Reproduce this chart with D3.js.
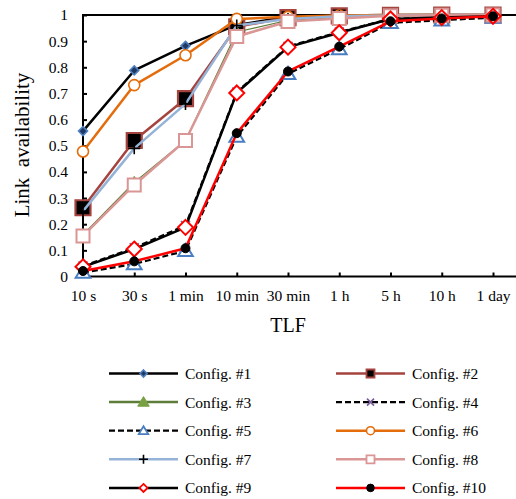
<!DOCTYPE html>
<html>
<head>
<meta charset="utf-8">
<script src="https://cdn.jsdelivr.net/npm/d3@7"></script>
<style>
  html, body { margin: 0; padding: 0; background: #fff; }
  svg { display: block; }
  svg text { font-family: "Liberation Serif", "Times New Roman", "DejaVu Serif", serif; fill: #000; }
</style>
</head>
<body>
<svg id="chart" width="516" height="499"></svg>
<script>
// Categories (time-to-live / TLF values) and y-axis tick labels
const categories = ["10 s", "30 s", "1 min", "10 min", "30 min", "1 h", "5 h", "10 h", "1 day"];
const yTicks = [0, 0.1, 0.2, 0.3, 0.4, 0.5, 0.6, 0.7, 0.8, 0.9, 1];
const yTickLabels = ["0", "0.1", "0.2", "0.3", "0.4", "0.5", "0.6", "0.7", "0.8", "0.9", "1"];

// Link availability per configuration
const config1  = [0.556, 0.788, 0.882, 0.962, 0.993, 0.998, 1.000, 1.000, 1.000];
const config2  = [0.263, 0.520, 0.680, 0.955, 0.990, 0.997, 0.999, 1.000, 1.000];
const config3  = [0.160, 0.360, 0.520, 0.935, 0.980, 0.990, 0.997, 0.999, 1.000];
const config4  = [0.040, 0.110, 0.195, 0.705, 0.880, 0.935, 0.985, 0.990, 0.995];
const config5  = [0.015, 0.048, 0.098, 0.535, 0.775, 0.870, 0.970, 0.980, 0.990];
const config6  = [0.478, 0.732, 0.846, 0.985, 0.993, 0.998, 1.000, 1.000, 1.000];
const config7  = [0.250, 0.490, 0.660, 0.960, 0.985, 0.995, 0.998, 1.000, 1.000];
const config8  = [0.155, 0.350, 0.520, 0.918, 0.975, 0.987, 0.997, 0.999, 1.000];
const config9  = [0.037, 0.105, 0.188, 0.702, 0.877, 0.932, 0.985, 0.990, 0.995];
const config10 = [0.021, 0.058, 0.108, 0.548, 0.784, 0.879, 0.976, 0.987, 0.995];

const seriesNames = ["Config. #1", "Config. #2", "Config. #3", "Config. #4", "Config. #5",
                     "Config. #6", "Config. #7", "Config. #8", "Config. #9", "Config. #10"];
const seriesValues = [config1, config2, config3, config4, config5,
                      config6, config7, config8, config9, config10];

// Visual style of each series: line, marker shape, marker size in plot and legend
const styles = [
  { line: "#000000", lw: 2.5, dash: null, shape: "diamond", size: 4.5, lsize: 3.5, fill: "#1F3864", stroke: "#4F81BD", sw: 1.6 },
  { line: "#A5443F", lw: 2.5, dash: null, shape: "square",  size: 7.5, lsize: 4,   fill: "#000000", stroke: "#A5443F", sw: 2.2 },
  { line: "#5E7D38", lw: 1.2, dash: null, shape: "triangle",size: 6,   lsize: 5.5, fill: "#77A143", stroke: "#77A143", sw: 1 },
  { line: "#000000", lw: 2.2, dash: "6,3", shape: "times", size: 4.5, lsize: 3.5, fill: "none",    stroke: "#7A5E9E", sw: 1.6 },
  { line: "#000000", lw: 2.2, dash: "6,3", shape: "triangle",size: 7, lsize: 4.5, fill: "#ffffff", stroke: "#4A7EC2", sw: 2 },
  { line: "#E46C0A", lw: 2.5, dash: null, shape: "circle",  size: 5.5, lsize: 4,   fill: "#ffffff", stroke: "#E46C0A", sw: 1.6 },
  { line: "#95B3D7", lw: 2.5, dash: null, shape: "plus",    size: 6,   lsize: 4.5, fill: "none",    stroke: "#000000", sw: 1.6 },
  { line: "#D99694", lw: 2.5, dash: null, shape: "square",  size: 6.5, lsize: 4,   fill: "#ffffff", stroke: "#D99694", sw: 2 },
  { line: "#000000", lw: 2.5, dash: null, shape: "diamond", size: 7.5, lsize: 4,   fill: "#ffffff", stroke: "#FF0000", sw: 2 },
  { line: "#FF0000", lw: 2.5, dash: null, shape: "circle",  size: 4.5, lsize: 3.8, fill: "#000000", stroke: "#000000", sw: 1 }
];

// Marker path by shape and half-size
function markerPath(shape, r) {
  switch (shape) {
    case "diamond":  return `M0,${-r}L${r},0L0,${r}L${-r},0Z`;
    case "square":   return `M${-r},${-r}H${r}V${r}H${-r}Z`;
    case "triangle": return `M0,${-r}L${r * 1.05},${r * 0.75}L${-r * 1.05},${r * 0.75}Z`;
    case "times":    return `M${-r},${-r}L${r},${r}M${r},${-r}L${-r},${r}`;
    case "plus":     return `M${-r},0H${r}M0,${-r}V${r}`;
    case "circle":   return `M${r},0A${r},${r} 0 1,1 ${-r},0A${r},${r} 0 1,1 ${r},0Z`;
  }
}

const FONT = "Liberation Serif, Times New Roman, DejaVu Serif, serif";
const svg = d3.select("#chart");
const plotLeft = 83, plotRight = 493, plotTop = 15, plotBottom = 276.5, plotEnd = 516;

const x = d3.scalePoint().domain(categories).range([plotLeft, plotRight]);
const y = d3.scaleLinear().domain([0, 1]).range([plotBottom, plotTop]);

// Axes (ticks point inward)
const xAxis = svg.append("g")
  .attr("transform", `translate(0,${plotBottom})`)
  .call(d3.axisBottom(x).tickSizeInner(-4).tickSizeOuter(0).tickPadding(13));
const yAxis = svg.append("g")
  .attr("transform", `translate(${plotLeft},0)`)
  .call(d3.axisLeft(y).tickValues(yTicks).tickFormat((d, i) => yTickLabels[i])
        .tickSizeInner(-4).tickSizeOuter(0).tickPadding(15));
[xAxis, yAxis].forEach(g => {
  g.attr("font-family", FONT).attr("font-size", 15.5);
  g.select(".domain").remove();
  g.selectAll(".tick line").attr("stroke", "#000").attr("stroke-width", 2);
  g.selectAll(".tick text").attr("font-size", "15.5px").attr("fill", "#000")
    .attr("font-family", FONT);
});

// Plot frame: left axis, bottom axis and top border
svg.append("line").attr("x1", plotLeft).attr("x2", plotEnd).attr("y1", plotBottom).attr("y2", plotBottom)
  .attr("stroke", "#000").attr("stroke-width", 2);
svg.append("line").attr("x1", plotLeft).attr("x2", plotEnd).attr("y1", plotTop).attr("y2", plotTop)
  .attr("stroke", "#000").attr("stroke-width", 2);
svg.append("line").attr("x1", plotLeft).attr("x2", plotLeft).attr("y1", plotTop - 1).attr("y2", plotBottom + 1)
  .attr("stroke", "#000").attr("stroke-width", 2);

// Series: line then markers, in order
const lineGen = d3.line().x((d, i) => x(categories[i])).y(d => y(d));
seriesValues.forEach((vals, s) => {
  const st = styles[s];
  const g = svg.append("g");
  g.append("path").datum(vals).attr("d", lineGen)
    .attr("fill", "none").attr("stroke", st.line).attr("stroke-width", st.lw)
    .attr("stroke-linejoin", "round")
    .attr("stroke-dasharray", st.dash);
  g.selectAll("path.m").data(vals).join("path").attr("class", "m")
    .attr("transform", (d, i) => `translate(${x(categories[i])},${y(d)})`)
    .attr("d", markerPath(st.shape, st.size))
    .attr("fill", st.fill).attr("stroke", st.stroke).attr("stroke-width", st.sw);
});

// Axis titles
svg.append("text").attr("x", 288).attr("y", 332).attr("text-anchor", "middle")
  .attr("font-family", FONT).attr("font-size", "20px").text("TLF");
svg.append("text").attr("transform", "translate(29,145) rotate(-90)")
  .attr("text-anchor", "middle").attr("font-family", FONT).attr("font-size", "21px")
  .style("white-space", "pre").text("Link  availability");

// Legend: two columns, five rows
const legend = svg.append("g");
seriesNames.forEach((name, s) => {
  const st = styles[s];
  const col = s % 2, row = Math.floor(s / 2);
  const lx = col === 0 ? 109 : 336;
  const ly = 373.5 + row * 28.6;
  const g = legend.append("g");
  g.append("line").attr("x1", lx).attr("x2", lx + 69).attr("y1", ly).attr("y2", ly)
    .attr("stroke", st.line).attr("stroke-width", st.lw === 1.2 ? 2.5 : st.lw)
    .attr("stroke-dasharray", st.dash);
  g.append("path").attr("transform", `translate(${lx + 34.5},${ly})`)
    .attr("d", markerPath(st.shape, st.lsize))
    .attr("fill", st.fill).attr("stroke", st.stroke).attr("stroke-width", Math.min(st.sw, 1.8));
  g.append("text").attr("x", lx + 76).attr("y", ly + 5.5)
    .attr("font-family", FONT).attr("font-size", "15.5px").text(name);
});
</script>
</body>
</html>
